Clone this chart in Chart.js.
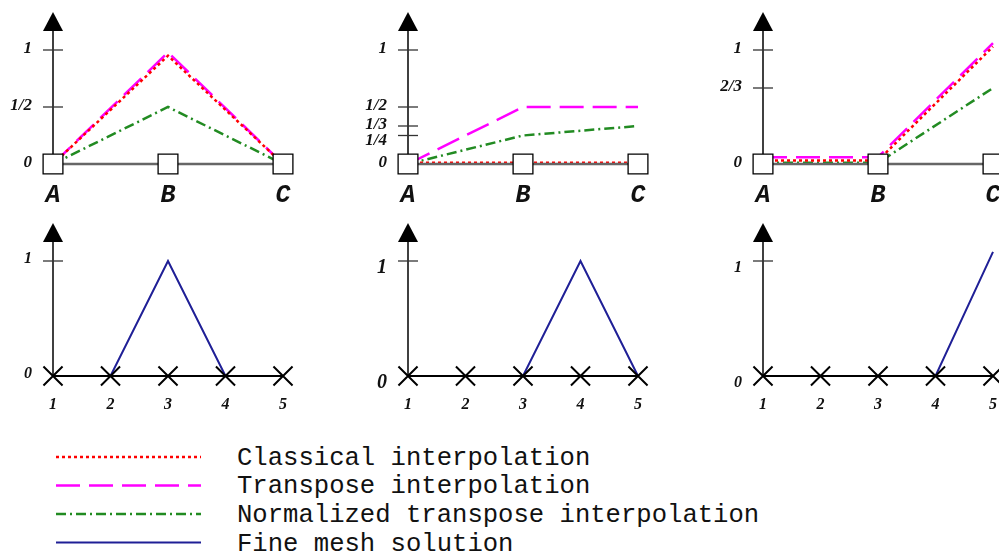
<!DOCTYPE html>
<html>
<head>
<meta charset="utf-8">
<script src="https://cdn.jsdelivr.net/npm/chart.js@4.4.0/dist/chart.umd.min.js"></script>
<style>
  html, body { margin: 0; padding: 0; background: #fff; overflow: hidden; }
  #page { position: relative; width: 999px; height: 552px; overflow: hidden; }
  #page canvas.panel { position: absolute; }
  #legend-lines { position: absolute; left: 40px; top: 440px; }
  .leg-text {
    position: absolute; left: 237px; height: 28px; line-height: 28px;
    font-family: "Liberation Mono", "DejaVu Sans Mono", monospace;
    font-size: 25.6px; color: #111; white-space: pre;
  }
</style>
</head>
<body>
<div id="page">
  <canvas id="legend-lines" width="180" height="112"></canvas>
  <div class="leg-text" style="top:445px">Classical interpolation</div>
  <div class="leg-text" style="top:473px">Transpose interpolation</div>
  <div class="leg-text" style="top:502px">Normalized transpose interpolation</div>
  <div class="leg-text" style="top:531px">Fine mesh solution</div>
</div>
<script>
// coarse nodes (top row) and fine nodes (bottom row)
const coarseNodes = ['A', 'B', 'C'];
const fineNodes = ['1', '2', '3', '4', '5'];

// one entry per column: basis function of node A, B, C
const classical = [
  [0, 0.95, 0],
  [0.01, 0.01, 0.01],
  [0.03, 0.03, 1.03]
];
const transpose = [
  [0, 0.98, 0],
  [0, 0.5, 0.5],
  [0.06, 0.06, 1.06]
];
const normalized = [
  [0, 0.5, 0],
  [0, 0.25, 1 / 3],
  [0.01, 0.01, 2 / 3]
];
const fineMesh = [
  [0, 0, 1, 0, 0],
  [0, 0, 0, 1, 0],
  [0, 0, 0, 0, 1.08]
];

// y tick values and their labels
const coarseTicks = [[0, 0.5, 1], [0, 0.25, 1 / 3, 0.5, 1], [0, 2 / 3, 1]];
const coarseTickLabels = [['0', '1/2', '1'], ['0', '1/4', '1/3', '1/2', '1'], ['0', '2/3', '1']];
const fineTicks = [0, 1];
const fineTickLabels = ['0', '1'];

const seriesNames = ['Classical interpolation', 'Transpose interpolation',
  'Normalized transpose interpolation', 'Fine mesh solution'];

// line styles
const styles = {
  classical:  { color: '#ff0000', dash: [3, 3], width: 2.5 },
  transpose:  { color: '#ff00ff', dash: [24, 9], width: 2.5 },
  normalized: { color: '#228b22', dash: [10, 4, 2, 4], width: 2.5 },
  fine:       { color: '#1f1f96', dash: [], width: 2 }
};

const serif = '"Liberation Serif", "DejaVu Serif", serif';
const mono = '"Liberation Mono", "DejaVu Sans Mono", monospace';

function lineSet(label, values, st, order) {
  return {
    label: label,
    data: values.map((v, i) => ({ x: i, y: v })),
    borderColor: st.color,
    borderDash: st.dash,
    borderWidth: st.width,
    pointRadius: 0,
    fill: false,
    tension: 0,
    clip: false,
    order: order
  };
}

// axis arrow, tick marks and labels drawn from the chart's scales
const axesPlugin = {
  id: 'axesPlugin',
  beforeDatasetsDraw(chart, args, opts) {
    const ctx = chart.ctx;
    const xs = chart.scales.x, ys = chart.scales.y;
    const ax = xs.getPixelForValue(0);
    const y0 = ys.getPixelForValue(0);
    const y1 = ys.getPixelForValue(1);
    ctx.save();
    // vertical axis with arrow head
    ctx.strokeStyle = '#000';
    ctx.lineWidth = 1.5;
    ctx.beginPath();
    ctx.moveTo(ax, y1 - 20);
    ctx.lineTo(ax, y0);
    ctx.stroke();
    ctx.fillStyle = '#000';
    ctx.beginPath();
    ctx.moveTo(ax, y1 - 38);
    ctx.lineTo(ax - 10, y1 - 19);
    ctx.lineTo(ax + 10, y1 - 19);
    ctx.closePath();
    ctx.fill();

    // tick marks crossing the axis
    ctx.strokeStyle = '#333';
    ctx.lineWidth = 1.3;
    opts.ticks.forEach(t => {
      if (t === 0) return;
      const py = ys.getPixelForValue(t);
      ctx.beginPath();
      ctx.moveTo(ax - 10, py);
      ctx.lineTo(ax + 10, py);
      ctx.stroke();
    });

    // tick labels, pushed down when they would overlap
    ctx.fillStyle = '#111';
    ctx.textAlign = 'right';
    ctx.textBaseline = 'middle';
    ctx.font = 'italic bold ' + opts.labelSize + 'px ' + serif;
    const order = opts.ticks.map((t, i) => i).sort((a, b) => opts.ticks[b] - opts.ticks[a]);
    let prev = -Infinity;
    order.forEach(i => {
      let py = ys.getPixelForValue(opts.ticks[i]) + opts.labelShift;
      if (py < prev + 16) py = prev + 16;
      ctx.fillText(opts.tickLabels[i], ax - 21, py);
      prev = py;
    });

    // node labels under the horizontal axis
    ctx.textAlign = 'center';
    ctx.font = opts.nodeFont;
    opts.nodes.forEach((n, i) => {
      ctx.fillText(n, xs.getPixelForValue(i), y0 + opts.nodeGap);
    });
    ctx.restore();
  }
};

function makePanel(col, row) {
  const canvas = document.createElement('canvas');
  canvas.className = 'panel';
  canvas.width = 355;
  canvas.height = 212;
  canvas.style.left = (col * 355) + 'px';
  canvas.style.top = (row * 212) + 'px';
  document.getElementById('page').appendChild(canvas);

  let datasets, nodes, pluginOpts;
  if (row === 0) {
    nodes = coarseNodes;
    datasets = [
      lineSet(seriesNames[0], classical[col], styles.classical, 1),
      lineSet(seriesNames[1], transpose[col], styles.transpose, 2),
      lineSet(seriesNames[2], normalized[col], styles.normalized, 3),
      {
        label: 'nodes',
        data: nodes.map((n, i) => ({ x: i, y: 0 })),
        borderColor: '#666',
        borderWidth: 2.5,
        pointStyle: 'rect',
        pointRadius: 14,
        pointBackgroundColor: '#fff',
        pointBorderColor: '#000',
        pointBorderWidth: 1.3,
        clip: false,
        order: 0
      }
    ];
    pluginOpts = {
      ticks: coarseTicks[col], tickLabels: coarseTickLabels[col],
      labelSize: 17, labelShift: -1,
      nodes: nodes, nodeFont: 'italic bold 25px ' + mono, nodeGap: 32
    };
  } else {
    nodes = fineNodes;
    datasets = [
      lineSet(seriesNames[3], fineMesh[col], styles.fine, 1),
      {
        label: 'fine nodes',
        data: nodes.map((n, i) => ({ x: i, y: 0 })),
        borderColor: '#000',
        borderWidth: 2,
        pointStyle: 'crossRot',
        pointRadius: 13.5,
        pointBorderColor: '#000',
        pointBorderWidth: 2,
        clip: false,
        order: 0
      }
    ];
    pluginOpts = {
      ticks: fineTicks, tickLabels: fineTickLabels,
      labelSize: col === 1 ? 20 : 16, labelShift: col === 0 ? -2 : 7,
      nodes: nodes, nodeFont: 'italic bold 16px ' + serif, nodeGap: 29
    };
  }

  new Chart(canvas, {
    type: 'line',
    data: { datasets: datasets },
    options: {
      responsive: false,
      animation: false,
      layout: { padding: { left: 53, right: 72, top: row === 0 ? 50 : 49, bottom: 48 } },
      scales: {
        x: { type: 'linear', display: false, min: 0, max: nodes.length - 1 },
        y: { type: 'linear', display: false, min: 0, max: 1 }
      },
      plugins: {
        legend: { display: false },
        tooltip: { enabled: false },
        axesPlugin: pluginOpts
      }
    },
    plugins: [axesPlugin]
  });
}

for (let row = 0; row < 2; row++) {
  for (let col = 0; col < 3; col++) makePanel(col, row);
}

// legend line samples
const lc = document.getElementById('legend-lines').getContext('2d');
[styles.classical, styles.transpose, styles.normalized, styles.fine].forEach((st, i) => {
  const y = 17 + i * 28.5;
  lc.strokeStyle = st.color;
  lc.lineWidth = st.width;
  lc.setLineDash(st.dash);
  lc.beginPath();
  lc.moveTo(16, y);
  lc.lineTo(161, y);
  lc.stroke();
});
</script>
</body>
</html>
